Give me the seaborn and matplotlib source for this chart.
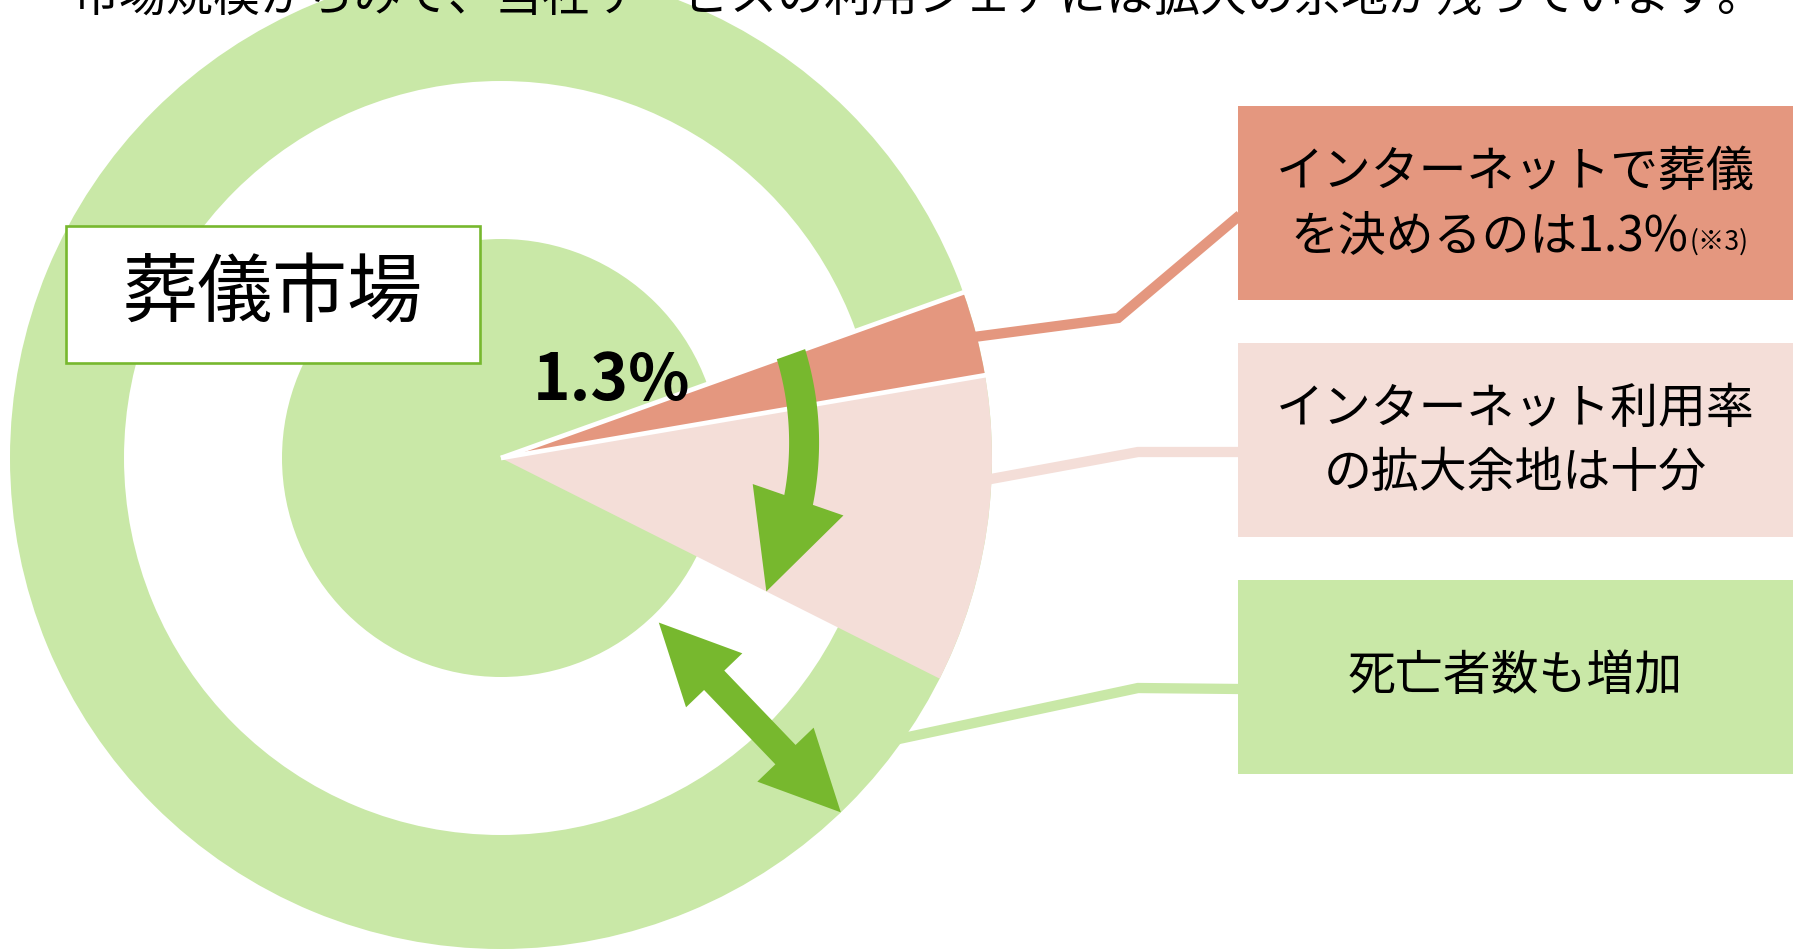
import numpy as np
import matplotlib
matplotlib.use("Agg")
import matplotlib.pyplot as plt
from matplotlib.patches import Wedge, Circle, Rectangle, Polygon
import seaborn as sns

# ---------------- data ----------------
title_text = "市場規模からみて、当社サービスの利用シェアには拡大の余地が残っています。"
market_label = "葬儀市場"
share_label = "1.3%"
segment_names = ["インターネットで葬儀を決める", "インターネット利用率の拡大余地", "葬儀市場(その他)"]
segment_deg = [10.0, 36.4]          # angular size of the two highlighted slices (as drawn)
segment_top_deg = 19.7              # upper edge of the first slice
box_lines = [
    ["インターネットで葬儀", "を決めるのは1.3%"],
    ["インターネット利用率", "の拡大余地は十分"],
    ["死亡者数も増加"],
]
box_note = "(※3)"

# ---------------- style ----------------
sns.set_theme(style="white")
plt.rcParams["font.family"] = ["Noto Sans CJK JP", "DejaVu Sans"]
palette = sns.color_palette(["#C9E8A7", "#77B82E", "#E4977F", "#F4DED8"])
GREEN_LIGHT, GREEN, SALMON, PALE = [matplotlib.colors.to_hex(c) for c in palette]

W, H = 1793, 950
fig = plt.figure(figsize=(W / 100, H / 100), dpi=100)
ax = fig.add_axes([0, 0, 1, 1])
ax.set_xlim(0, W)
ax.set_ylim(H, 0)
ax.set_aspect("equal")
ax.axis("off")

cx, cy = 501, 458
R, r2, r1 = 491, 377, 219


def pol(r, deg):
    """visual angle (counter-clockwise, y up) -> data coords (y down)"""
    t = np.deg2rad(deg)
    return cx + r * np.cos(t), cy - r * np.sin(t)


# ---------------- target rings ----------------
ax.add_patch(Wedge((cx, cy), R, 0, 360, width=R - r2, facecolor=GREEN_LIGHT, edgecolor="none", zorder=1))
ax.add_patch(Circle((cx, cy), r1, facecolor=GREEN_LIGHT, edgecolor="none", zorder=1))

# highlighted slices
edges = [segment_top_deg]
for d in segment_deg:
    edges.append(edges[-1] - d)
slice_colors = [SALMON, PALE]
for i, col in enumerate(slice_colors):
    a_hi, a_lo = edges[i], edges[i + 1]
    ax.add_patch(Wedge((cx, cy), R, -a_hi, -a_lo, facecolor=col, edgecolor="none", zorder=2))

# white separators
for a in edges[:2]:
    x1, y1 = pol(R + 3, a)
    ax.plot([cx, x1], [cy, y1], color="white", lw=3.4, solid_capstyle="butt", zorder=3)

# ---------------- connectors ----------------
box_x0, box_w, box_h = 1238, W - 1238, 194
box_tops = [106, 343, 580]
box_colors = [SALMON, PALE, GREEN_LIGHT]
conn_start = [(478, 14.5), (485, -2.6), (485, -35.5)]
conn_elbow = [(1118, 318), (1138, 452), (1138, 688)]
for i in range(3):
    sx, sy = pol(*conn_start[i])
    ex, ey = conn_elbow[i]
    by = box_tops[i] + box_h / 2 + 12
    ax.plot([sx, ex, box_x0 + 2], [sy, ey, by], color=box_colors[i], lw=7.4,
            solid_capstyle="butt", solid_joinstyle="miter", zorder=2.5)

# ---------------- boxes ----------------
for i in range(3):
    ax.add_patch(Rectangle((box_x0, box_tops[i]), box_w + 5, box_h, facecolor=box_colors[i],
                           edgecolor="none", zorder=3))
    c = box_tops[i] + box_h / 2
    lines = box_lines[i]
    if len(lines) == 2:
        ys = [c - 35, c + 29]
    else:
        ys = [c - 5]
    for j, (txt, y) in enumerate(zip(lines, ys)):
        if i == 0 and j == 1:
            ax.text(1688, y + 18, txt, fontsize=34.5, ha="right", va="baseline", color="black", zorder=6)
            ax.text(1690, y + 18, box_note, fontsize=19, ha="left", va="baseline", color="black", zorder=6)
        else:
            ax.text(box_x0 + box_w / 2, y + 18, txt, fontsize=34.5, ha="center", va="baseline",
                    color="black", zorder=6)

# ---------------- arrows ----------------
# curved arrow sweeping from top edge of first slice to bottom edge of second slice
neck_deg = -8.0
ang = np.linspace(edges[0], neck_deg - 2.0, 80)
rad = np.linspace(308, 300, 80)
hw = 15
outer = [pol(r + hw, a) for r, a in zip(rad, ang)]
inner = [pol(r - hw, a) for r, a in zip(rad, ang)][::-1]
ax.add_patch(Polygon(outer + inner, closed=True, facecolor=GREEN, edgecolor="none", zorder=4))
bx, by_ = pol(300, neck_deg)
tx, ty = pol(297, edges[2])
d = np.array([tx - bx, ty - by_])
d /= np.linalg.norm(d)
n = np.array([-d[1], d[0]])
head = [(tx, ty), (bx + 48 * n[0], by_ + 48 * n[1]), (bx - 48 * n[0], by_ - 48 * n[1])]
ax.add_patch(Polygon(head, closed=True, facecolor=GREEN, edgecolor="none", zorder=4))

# double arrow across the white ring (market growth)
arrow_deg = -46.2
A = np.array(pol(r1 + 9, arrow_deg))
B = np.array(pol(R, arrow_deg))
u = (B - A) / np.linalg.norm(B - A)
n = np.array([-u[1], u[0]])
hl, hh, sh = 80, 39, 14
pts = [A, A + hl * u + hh * n, A + hl * u + sh * n, B - hl * u + sh * n, B - hl * u + hh * n, B,
       B - hl * u - hh * n, B - hl * u - sh * n, A + hl * u - sh * n, A + hl * u - hh * n]
ax.add_patch(Polygon([tuple(p) for p in pts], closed=True, facecolor=GREEN, edgecolor="none", zorder=4))

# ---------------- labels ----------------
ax.add_patch(Rectangle((66, 226), 414, 137, facecolor="white", edgecolor=GREEN, lw=1.9, zorder=4))
ax.text(273, 316, market_label, fontsize=54, ha="center", va="baseline", color="black", zorder=6)
ax.text(612, 400, share_label, fontsize=46, fontweight="bold", ha="center", va="baseline",
        color="black", zorder=6)

ax.text(73, 12, title_text, fontsize=33.8, ha="left", va="baseline", color="black", zorder=7)

fig.savefig("out.png", dpi=100, facecolor="white")
